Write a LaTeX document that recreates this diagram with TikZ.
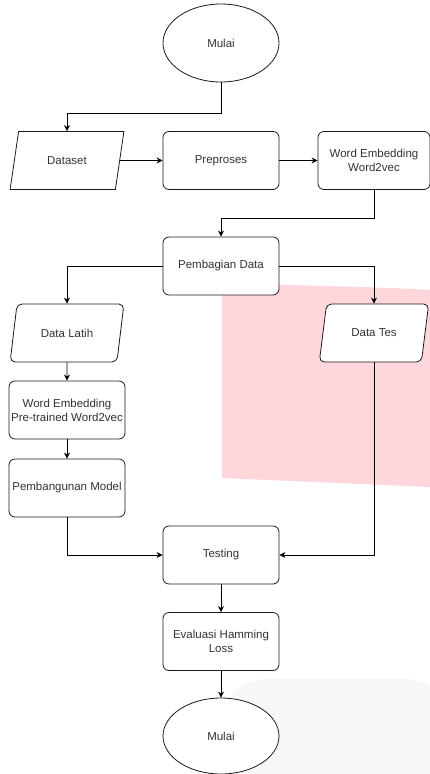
\documentclass[tikz,border=0pt]{standalone}
\usepackage{fontspec}
\setmainfont{Liberation Sans}
\usetikzlibrary{shapes.geometric,arrows.meta}
\definecolor{txt}{HTML}{333333}
\definecolor{edge}{HTML}{1A1A1A}
\definecolor{pinkbg}{RGB}{255,214,220}
\definecolor{graybg}{RGB}{247,247,247}
\begin{document}
\begin{tikzpicture}[x=1pt,y=-1pt,
  lbl/.style={text=txt, font=\fontsize{11.5}{14}\selectfont, align=center, inner sep=1pt},
  box/.style={lbl, draw=edge, line width=0.8pt, fill=white, rounded corners=6pt, minimum width=116pt, minimum height=58pt},
  io/.style={lbl, trapezium, trapezium left angle=70, trapezium right angle=110, trapezium stretches=true, draw=edge, line width=0.8pt, fill=white, minimum width=114pt, minimum height=58pt},
  term/.style={lbl, ellipse, draw=edge, line width=0.8pt, fill=white, minimum width=116pt, minimum height=78pt},
  arr/.style={-{Stealth[length=6pt,width=6pt]}, line width=0.8pt, draw=black}]
\useasboundingbox (0,0) rectangle (430,774);
% background artefacts
\fill[pinkbg] (222,284) .. controls (300,285) and (380,287) .. (430,290) -- (430,487) -- (222,478) -- cycle;
\fill[graybg, rounded corners=45pt] (222,679) -- (450,679) -- (450,800) -- (222,800) -- cycle;
% nodes
\node[term] (start) at (221,43) {Mulai};
\node[io] (dataset) at (67,160.5) {Dataset};
\node[box] (prep) at (221,160.5) {Preproses};
\node[box, minimum width=112pt] (we) at (374,160.5) {Word Embedding\\Word2vec};
\node[box] (pemb) at (221,266) {Pembagian Data};
\node[io, rounded corners=5pt] (latih) at (67,333) {Data Latih};
\node[io, rounded corners=5pt, minimum width=110pt] (tes) at (374,333) {Data Tes};
\node[box] (wept) at (67,410) {Word Embedding\\Pre-trained Word2vec};
\node[box] (model) at (67,488) {Pembangunan Model};
\node[box] (testing) at (221,555) {Testing};
\node[box] (eval) at (221,641.5) {Evaluasi Hamming\\Loss};
\node[term, minimum height=76pt] (end) at (221,736) {Mulai};
% junctions
\coordinate (j1) at (221,113);
\coordinate (j2) at (374,218);
% connectors
\draw[arr] (start.south) -- (j1) -| (dataset.north);
\draw[arr] (dataset.east) -- (prep.west);
\draw[arr] (prep.east) -- (we.west);
\draw[arr] (we.south) -- (j2) -| (pemb.north);
\draw[arr] (pemb.west) -| (latih.north);
\draw[arr] (pemb.east) -| (tes.north);
\draw[arr] (latih.south) -- (wept.north);
\draw[arr] (wept.south) -- (model.north);
\draw[arr] (model.south) |- (testing.west);
\draw[arr] (tes.south) |- (testing.east);
\draw[arr] (testing.south) -- (eval.north);
\draw[arr] (eval.south) -- (end.north);
\end{tikzpicture}
\end{document}
